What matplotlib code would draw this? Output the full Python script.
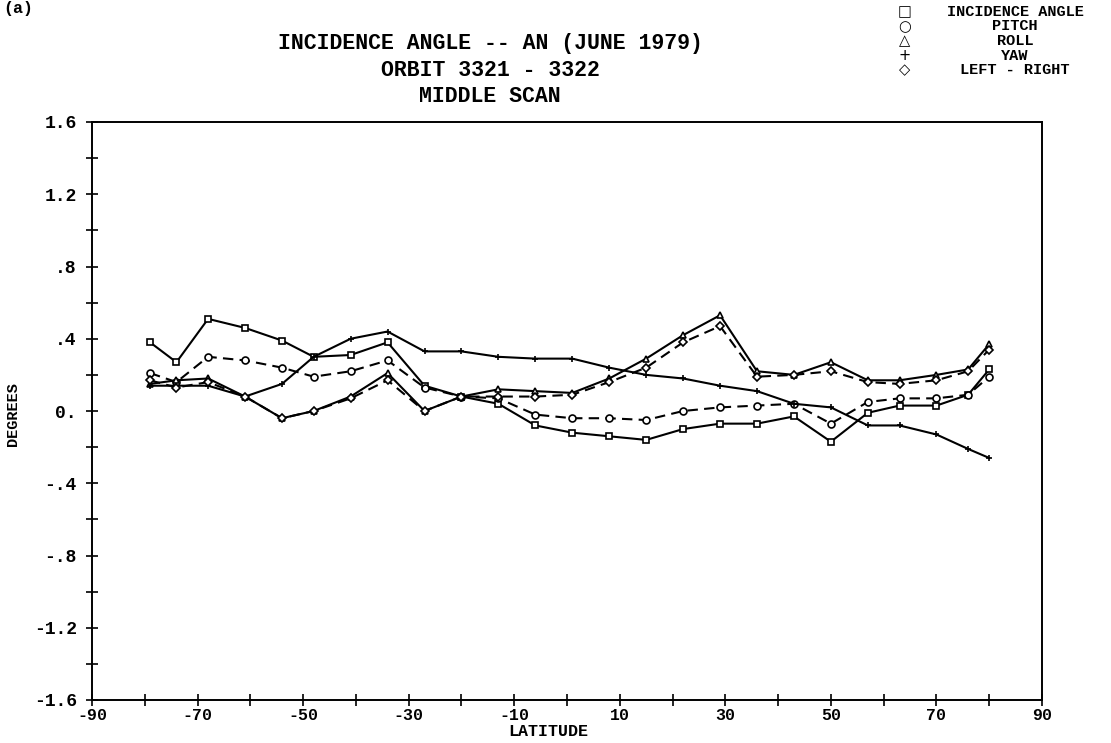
import matplotlib
matplotlib.use('Agg')
import matplotlib.pyplot as plt
import numpy as np

#-------------------------------------------------------------------------------
# data
#-------------------------------------------------------------------------------
lat = [-79, -74, -68, -61, -54, -48, -41, -34, -27, -20, -13, -6, 1, 8, 15,
       22, 29, 36, 43, 50, 57, 63, 70, 76, 80]
incidence = [0.38, 0.27, 0.51, 0.46, 0.39, 0.30, 0.31, 0.38, 0.14, 0.08, 0.04,
             -0.08, -0.12, -0.14, -0.16, -0.10, -0.07, -0.07, -0.03, -0.17,
             -0.01, 0.03, 0.03, 0.09, 0.23]
pitch = [0.21, 0.16, 0.30, 0.28, 0.24, 0.19, 0.22, 0.28, 0.13, 0.08, 0.07,
         -0.02, -0.04, -0.04, -0.05, 0.00, 0.02, 0.03, 0.04, -0.07, 0.05,
         0.07, 0.07, 0.09, 0.19]
roll = [0.15, 0.17, 0.18, 0.08, -0.04, 0.00, 0.08, 0.21, 0.00, 0.08, 0.12,
        0.11, 0.10, 0.18, 0.29, 0.42, 0.53, 0.22, 0.20, 0.27, 0.17, 0.17,
        0.20, 0.23, 0.37]
yaw = [0.14, 0.14, 0.14, 0.08, 0.15, 0.30, 0.40, 0.44, 0.33, 0.33, 0.30,
       0.29, 0.29, 0.24, 0.20, 0.18, 0.14, 0.11, 0.04, 0.02, -0.08, -0.08,
       -0.13, -0.21, -0.26]
leftright = [0.17, 0.13, 0.16, 0.08, -0.04, 0.00, 0.07, 0.17, 0.00, 0.08,
             0.08, 0.08, 0.09, 0.16, 0.24, 0.38, 0.47, 0.19, 0.20, 0.22, 0.16,
             0.15, 0.17, 0.22, 0.34]

xticks = [-90, -70, -50, -30, -10, 10, 30, 50, 70, 90]
xminor = [-80, -60, -40, -20, 0, 20, 40, 60, 80]
yticks = [1.6, 1.2, 0.8, 0.4, 0.0, -0.4, -0.8, -1.2, -1.6]
ylabels = ['1.6', '1.2', '.8', '.4', '0.', '-.4', '-.8', '-1.2', '-1.6']
yminor = [1.4, 1.0, 0.6, 0.2, -0.2, -0.6, -1.0, -1.4]

legend_names = ['INCIDENCE ANGLE', 'PITCH', 'ROLL', 'YAW', 'LEFT - RIGHT']
legend_syms = ['\u25a1', '\u25cb', '\u25b3', '+', '\u25c7']
titles = ['INCIDENCE ANGLE -- AN (JUNE 1979)', 'ORBIT 3321 - 3322', 'MIDDLE SCAN']

#-------------------------------------------------------------------------------
# plot
#-------------------------------------------------------------------------------
mono = 'Liberation Mono'
fig = plt.figure(figsize=(11.11, 7.43), dpi=100)
ax = fig.add_axes([92/1111, 1-700/743, 950/1111, 578/743])

series = [(incidence, 's', '-'), (pitch, 'o', (0, (5, 3))), (roll, '^', '-'),
          (yaw, '+', '-'), (leftright, 'D', (0, (5, 3)))]
for vals, mk, ls in series:
    ax.plot(lat, vals, color='black', linestyle=ls, linewidth=1.5,
            marker=mk, markersize=5 if mk != 'D' else 4.2,
            markerfacecolor='white', markeredgecolor='black', markeredgewidth=1.2)

ax.set_xlim(-90, 90)
ax.set_ylim(-1.6, 1.6)
ax.set_xticks(xticks)
ax.set_xticks(xminor, minor=True)
ax.set_yticks(yticks)
ax.set_yticks(yminor, minor=True)
ax.set_xticklabels([str(v) for v in xticks], fontfamily=mono, fontweight='bold', fontsize=12)
ax.set_yticklabels(ylabels, fontfamily=mono, fontweight='bold', fontsize=13)
ax.tick_params(which='both', direction='inout', length=8, width=1.2, top=False, right=False)
ax.tick_params(axis='x', which='both', pad=2)
ax.tick_params(axis='y', which='both', pad=7)
for sp in ax.spines.values():
    sp.set_linewidth(1.4)

fig.text(548/1111, 1-732/743, 'LATITUDE', ha='center', va='center',
         fontfamily=mono, fontweight='bold', fontsize=12)
fig.text(13/1111, 1-414/743, 'DEGREES', ha='center', va='center', rotation=90,
         fontfamily=mono, fontweight='bold', fontsize=11)

title_y = [43, 70, 97]
for t, yy in zip(titles, title_y):
    fig.text(490/1111, 1-yy/743, t, ha='center', va='center',
             fontfamily=mono, fontweight='bold', fontsize=15.5)

leg_y = [12, 26.5, 41, 55.5, 70]
for name, sym, yy in zip(legend_names, legend_syms, leg_y):
    fig.text(905/1111, 1-yy/743, sym, ha='center', va='center',
             fontfamily='DejaVu Sans', fontsize=10.5)
    fig.text(1015/1111, 1-yy/743, name, ha='center', va='center',
             fontfamily=mono, fontweight='bold', fontsize=11)

fig.text(3/1111, 1-9/743, '(a)', ha='left', va='center',
         fontfamily=mono, fontweight='bold', fontsize=12)

plt.savefig('out.png', dpi=100)
